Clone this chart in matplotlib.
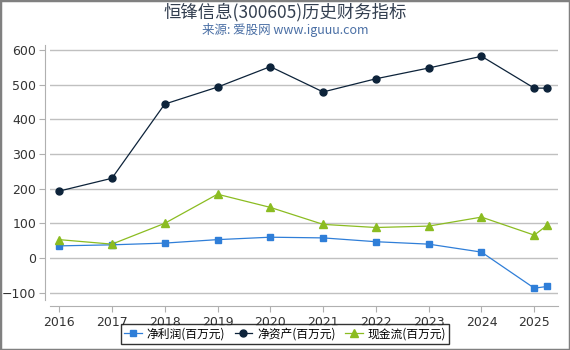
import matplotlib.pyplot as plt
from matplotlib.patches import Rectangle

plt.rcParams['font.family'] = ['Noto Sans CJK SC', 'DejaVu Sans']

years = [2016, 2017, 2018, 2019, 2020, 2021, 2022, 2023, 2024, 2025, 2025.25]
tick_years = [2016, 2017, 2018, 2019, 2020, 2021, 2022, 2023, 2024, 2025]
net_profit = [35, 38, 43, 53, 60, 58, 47, 40, 17, -87, -82]
net_assets = [193, 230, 444, 493, 552, 479, 517, 548, 582, 490, 490]
cash_flow = [53, 40, 100, 184, 146, 97, 88, 92, 118, 66, 95]

fig = plt.figure(figsize=(5.7, 3.5), dpi=100)
ax = fig.add_axes([0.088, 0.143, 0.891, 0.728])

ax.plot(years, net_profit, color='#2f7ed8', marker='s', markersize=5, linewidth=0.9, label='净利润(百万元)')
ax.plot(years, net_assets, color='#0d233a', marker='o', markersize=5, linewidth=0.9, label='净资产(百万元)')
ax.plot(years, cash_flow, color='#8bbc21', marker='^', markersize=6, linewidth=0.9, label='现金流(百万元)')

ax.set_xlim(2015.83, 2025.45)
ax.set_ylim(-121, 614)
ax.set_xticks(tick_years)
ax.set_yticks([-100, 0, 100, 200, 300, 400, 500, 600])
ax.grid(axis='y', color='#c0c0c0', linewidth=1)
ax.set_axisbelow(True)
for s in ['top', 'right']:
    ax.spines[s].set_visible(False)
ax.spines['left'].set_position(('outward', 4))
ax.spines['bottom'].set_position(('outward', 4))
ax.spines['left'].set_color('#b0b0b0')
ax.spines['bottom'].set_color('#b0b0b0')
ax.tick_params(colors='#b0b0b0', labelcolor='#333333', labelsize=9, length=4)
ax.tick_params(axis='y', pad=2)
for lab in ax.get_xticklabels() + ax.get_yticklabels():
    lab.set_family('DejaVu Sans')

fig.text(0.5, 0.965, '恒锋信息(300605)历史财务指标', ha='center', va='center', fontsize=12.5, color='#333f50')
fig.text(0.5, 0.915, '来源: 爱股网 www.iguuu.com', ha='center', va='center', fontsize=9, color='#4a6fa5')

leg = fig.legend(loc='lower center', bbox_to_anchor=(0.5, 0.0), ncol=3, fontsize=8.5,
                 frameon=True, fancybox=False, edgecolor='black', handlelength=1.5,
                 handletextpad=0.4, columnspacing=0.8, borderpad=0.3)
leg.get_frame().set_linewidth(1)

fig.patches.append(Rectangle((0, 0), 1, 1, transform=fig.transFigure, fill=False,
                             edgecolor='#808080', linewidth=2.5))

fig.savefig('out.png', dpi=100)
